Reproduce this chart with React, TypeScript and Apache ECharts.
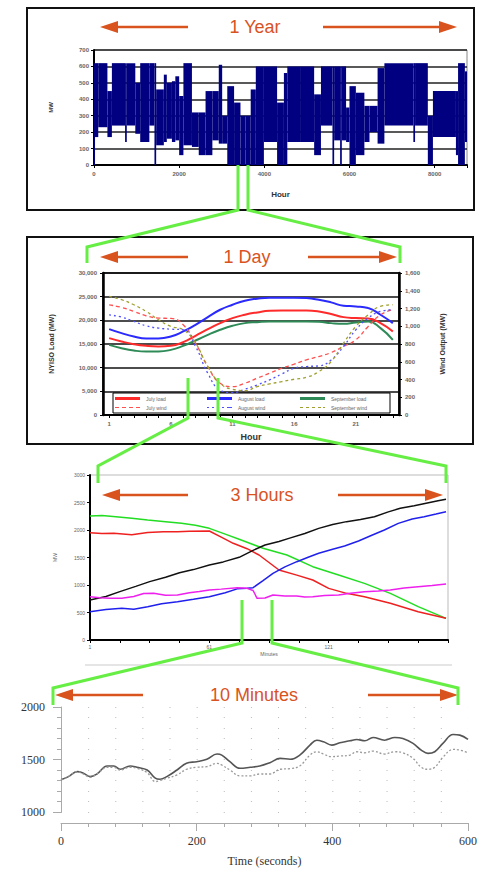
import React, { useEffect, useRef } from 'react';
import * as echarts from 'echarts';

// ---------- Panel 1: one year of hourly wind output (MW), envelope segments [startHour, endHour, low, high]
const yearSegments: [number, number, number, number][] = [
  [0, 24, 0, 620], [24, 100, 170, 620], [100, 315, 230, 620], [315, 420, 170, 450],
  [420, 730, 240, 620], [730, 770, 140, 620], [770, 970, 240, 620], [970, 1085, 190, 500],
  [1085, 1300, 140, 620], [1300, 1420, 240, 620], [1420, 1460, 0, 620], [1460, 1640, 120, 460],
  [1640, 1710, 140, 550], [1710, 1830, 160, 500], [1830, 1910, 140, 510], [1910, 2000, 150, 540],
  [2000, 2100, 60, 420], [2100, 2300, 120, 620], [2300, 2460, 110, 320], [2460, 2620, 60, 320],
  [2620, 2780, 60, 450], [2780, 2930, 150, 450], [2930, 3010, 130, 610], [3010, 3130, 130, 300],
  [3130, 3290, 0, 480], [3290, 3440, 0, 380], [3440, 3560, 0, 300], [3560, 3680, 0, 300],
  [3680, 3800, 0, 460], [3800, 3990, 0, 600], [3990, 4300, 140, 600], [4300, 4460, 0, 380],
  [4460, 4540, 0, 560], [4540, 4860, 140, 600], [4860, 5170, 140, 600], [5170, 5330, 60, 430],
  [5330, 5600, 240, 600], [5600, 5640, 0, 600], [5640, 5780, 150, 600], [5780, 5820, 0, 600],
  [5820, 5920, 150, 600], [5920, 6000, 140, 350], [6000, 6150, 0, 480], [6150, 6350, 60, 440],
  [6350, 6470, 140, 360], [6470, 6660, 200, 360], [6660, 6820, 130, 590], [6820, 7500, 240, 620],
  [7500, 7540, 140, 620], [7540, 7840, 240, 620], [7840, 7960, 0, 300], [7960, 8500, 170, 450],
  [8500, 8550, 60, 450], [8550, 8710, 0, 620], [8710, 8760, 140, 570],
];

// ---------- Panel 2: one day
const dayHours = ['1', '2', '3', '4', '5', '6', '7', '8', '9', '10', '11', '12', '13', '14', '15', '16', '17', '18', '19', '20', '21', '22', '23', '24'];
const julyLoad = [16235, 15530, 14965, 14610, 14470, 14610, 15390, 16730, 18140, 19410, 20470, 21180, 21670, 22020, 22090, 22090, 22090, 21880, 21320, 20680, 20470, 20400, 19410, 17650];
const augustLoad = [18140, 17290, 16590, 16165, 16165, 16590, 17650, 19060, 20680, 22235, 23290, 24140, 24565, 24775, 24775, 24775, 24700, 24350, 23790, 23080, 22940, 22590, 21180, 19410];
const septemberLoad = [14820, 14120, 13620, 13410, 13410, 13760, 14610, 15740, 16940, 18000, 18850, 19410, 19620, 19760, 19760, 19760, 19760, 19690, 19410, 19270, 19550, 19760, 18350, 15880];
const julyWind = [1242, 1212, 1167, 1118, 1092, 1088, 1017, 810, 546, 358, 320, 358, 414, 470, 527, 572, 621, 659, 704, 772, 847, 998, 1129, 1186];
const augustWind = [1129, 1103, 1054, 1005, 979, 967, 960, 772, 470, 282, 252, 290, 339, 395, 463, 527, 546, 553, 621, 772, 960, 1092, 1167, 1186];
const septemberWind = [1336, 1299, 1242, 1167, 1073, 998, 960, 810, 546, 358, 290, 275, 320, 350, 376, 403, 425, 489, 602, 810, 998, 1129, 1224, 1242];

// ---------- Panel 3: three hours (minute offset from start, MW)
const greenMinute: [number, number][] = [[0, 2255], [6, 2262], [13, 2242], [21, 2215], [29, 2182], [38, 2150], [46, 2121], [53, 2085], [60, 2030], [68, 1925], [76, 1818], [87, 1667], [99, 1545], [112, 1333], [125, 1182], [138, 1030], [151, 848], [165, 606], [179, 394]];
const redMinute: [number, number][] = [[0, 1951], [6, 1935], [12, 1939], [21, 1915], [29, 1955], [37, 1970], [44, 1968], [50, 1976], [60, 1982], [66, 1870], [72, 1758], [79, 1660], [85, 1545], [95, 1273], [104, 1180], [112, 1091], [120, 939], [129, 848], [138, 788], [151, 667], [165, 515], [179, 394]];
const blackMinute: [number, number][] = [[0, 727], [8, 790], [15, 879], [23, 975], [30, 1061], [38, 1140], [45, 1224], [52, 1280], [60, 1364], [67, 1420], [75, 1503], [82, 1630], [88, 1727], [95, 1790], [100, 1848], [108, 1935], [115, 2030], [122, 2100], [129, 2152], [136, 2190], [143, 2242], [150, 2330], [156, 2394], [163, 2440], [169, 2485], [175, 2530], [179, 2558]];
const blueMinute: [number, number][] = [[0, 515], [8, 555], [16, 576], [22, 560], [29, 606], [36, 660], [44, 697], [52, 740], [60, 788], [68, 860], [74, 930], [79, 939], [82, 952], [87, 1080], [92, 1212], [98, 1330], [104, 1424], [110, 1510], [115, 1576], [122, 1650], [128, 1709], [135, 1800], [142, 1909], [148, 2000], [155, 2121], [162, 2200], [168, 2242], [174, 2290], [179, 2333]];
const magentaMinute: [number, number][] = [[0, 788], [5, 770], [10, 760], [16, 758], [22, 790], [27, 845], [32, 848], [38, 812], [44, 818], [50, 860], [55, 880], [60, 909], [66, 925], [74, 952], [79, 939], [82, 900], [84, 758], [88, 765], [92, 818], [98, 800], [104, 800], [108, 780], [112, 788], [118, 810], [125, 818], [131, 850], [138, 879], [145, 890], [151, 909], [158, 945], [165, 970], [172, 990], [179, 1018]];

// ---------- Panel 4: ten minutes
const seconds = [0, 11, 24, 33, 43, 53, 68, 78, 87, 102, 112, 127, 139, 146, 156, 171, 185, 200, 215, 230, 237, 249, 264, 279, 293, 308, 323, 338, 352, 367, 377, 387, 399, 411, 426, 436, 448, 460, 477, 492, 504, 519, 531, 541, 551, 563, 578, 588, 600];
const solidSeconds = [1306, 1337, 1385, 1369, 1337, 1362, 1438, 1438, 1407, 1438, 1426, 1400, 1322, 1312, 1337, 1400, 1464, 1479, 1502, 1552, 1542, 1479, 1416, 1426, 1438, 1470, 1511, 1502, 1542, 1637, 1684, 1669, 1637, 1659, 1678, 1691, 1678, 1710, 1684, 1710, 1700, 1653, 1590, 1558, 1574, 1653, 1738, 1732, 1691];
const dottedSeconds = [1306, 1337, 1385, 1362, 1331, 1362, 1426, 1426, 1400, 1426, 1416, 1375, 1290, 1300, 1322, 1353, 1407, 1426, 1432, 1464, 1448, 1400, 1344, 1344, 1362, 1362, 1407, 1413, 1438, 1542, 1574, 1552, 1527, 1533, 1542, 1574, 1564, 1580, 1552, 1574, 1564, 1511, 1426, 1407, 1426, 1521, 1596, 1590, 1564];

const titles = ['1 Year', '1 Day', '3 Hours', '10 Minutes'];
const dayLegend = ['July load', 'August load', 'September load', 'July wind', 'August wind', 'September wind'];

const ORANGE = '#d9531f';
const GREEN = '#66ee44';
const SMALL = '"Liberation Sans", Arial, sans-serif';
const SERIF = '"Liberation Serif", "Times New Roman", serif';

const DASH_ICONS = [
  'path://M0,0h4v1h-4z M7,0h4v1h-4z M14,0h4v1h-4z M21,0h4v1h-4z',
  'path://M0,0h2v1h-2z M5,0h2v1h-2z M10,0h2v1h-2z M15,0h2v1h-2z M20,0h5v1h-5z',
  'path://M0,0h3v1h-3z M6,0h3v1h-3z M12,0h3v1h-3z M18,0h3v1h-3z M23,0h2v1h-2z',
];

function arrowPair(xl: number, xlEnd: number, xrStart: number, xr: number, y: number) {
  const hl = 18, hh = 6;
  return [
    { type: 'line', z: 50, shape: { x1: xl + hl - 2, y1: y, x2: xlEnd, y2: y }, style: { stroke: ORANGE, lineWidth: 2.5 } },
    { type: 'polygon', z: 50, shape: { points: [[xl, y], [xl + hl, y - hh], [xl + hl, y + hh]] }, style: { fill: ORANGE } },
    { type: 'line', z: 50, shape: { x1: xrStart, y1: y, x2: xr - hl + 2, y2: y }, style: { stroke: ORANGE, lineWidth: 2.5 } },
    { type: 'polygon', z: 50, shape: { points: [[xr, y], [xr - hl, y - hh], [xr - hl, y + hh]] }, style: { fill: ORANGE } },
  ];
}

function title(text: string, x: number, y: number) {
  return {
    type: 'text', z: 50, x, y,
    style: { text, fill: ORANGE, font: `18px ${SMALL}`, align: 'center', verticalAlign: 'middle' },
  };
}

function green(points: number[][]) {
  return { type: 'polyline', z: 100, shape: { points }, style: { stroke: GREEN, lineWidth: 3, fill: 'none' } };
}

const smallLabel = { fontSize: 6, color: '#666', fontWeight: 'bold' as const, fontFamily: SMALL };

function buildOption(): any {
  const commas = (v: number) => v.toLocaleString('en-US');
  const legendCols = [115, 207, 300];
  return {
    animation: false,
    backgroundColor: '#fff',
    grid: [
      { left: 94, top: 50, width: 373, height: 115, show: true, borderColor: '#888', borderWidth: 1 },
      { left: 103, top: 273, width: 296, height: 142, show: true, borderColor: '#000', borderWidth: 1.5 },
      { left: 90, top: 475, width: 358, height: 165, show: true, borderColor: '#bbb', borderWidth: 1 },
      { left: 61, top: 707, width: 407, height: 105 },
    ],
    legend: dayLegend.map((name, i) => ({
      data: [{ name, icon: i < 3 ? 'rect' : DASH_ICONS[i - 3] }],
      left: legendCols[i % 3], top: i < 3 ? 396 : 405,
      itemWidth: 25, itemHeight: i < 3 ? 3 : 2, itemGap: 0, padding: 0,
      textStyle: { fontSize: 5, color: '#666', fontFamily: SMALL, padding: [0, 0, 0, 1] },
      selectedMode: false,
      z: 6,
    })),
    xAxis: [
      {
        gridIndex: 0, type: 'value', min: 0, max: 8760, interval: 2000,
        axisLine: { show: true, lineStyle: { color: '#000', width: 2 } },
        axisTick: { show: true, length: 3, lineStyle: { color: '#000' } },
        axisLabel: { ...smallLabel, margin: 6, formatter: (v: number) => (v % 2000 === 0 ? String(v) : '') },
        splitLine: { show: false },
        name: 'Hour', nameLocation: 'middle', nameGap: 25,
        nameTextStyle: { fontSize: 8, fontWeight: 'bold', color: '#333', fontFamily: SMALL },
      },
      {
        gridIndex: 1, type: 'category', data: dayHours, boundaryGap: true,
        axisLine: { show: true, lineStyle: { color: '#000', width: 2 } },
        axisTick: { show: true, alignWithLabel: true, interval: 0, length: 3, lineStyle: { color: '#000' } },
        axisLabel: { ...smallLabel, interval: 4, margin: 6 },
        name: 'Hour', nameLocation: 'middle', nameGap: 17,
        nameTextStyle: { fontSize: 9, fontWeight: 'bold', color: '#333', fontFamily: SMALL },
      },
      {
        gridIndex: 2, type: 'value', min: 0, max: 180, interval: 15,
        axisLine: { show: true, lineStyle: { color: '#000', width: 2 } },
        axisTick: { show: true, length: 3, lineStyle: { color: '#000' } },
        axisLabel: { fontSize: 5, color: '#666', fontFamily: SMALL, margin: 4, formatter: (v: number) => (v % 60 === 0 && v < 180 ? String(v + 1) : '') },
        splitLine: { show: false },
        name: 'Minutes', nameLocation: 'middle', nameGap: 11,
        nameTextStyle: { fontSize: 5, color: '#666', fontFamily: SMALL },
      },
      {
        gridIndex: 3, type: 'value', min: 0, max: 600, interval: 200, offset: 11,
        axisLine: { show: true, lineStyle: { color: '#aaa', width: 1 } },
        axisTick: { show: true, length: 8, lineStyle: { color: '#aaa' } },
        minorTick: { show: true, splitNumber: 5, length: 4, lineStyle: { color: '#aaa' } },
        axisLabel: { fontSize: 12, color: '#333', fontFamily: SERIF, margin: 12 },
        splitLine: { show: false },
        name: 'Time (seconds)', nameLocation: 'middle', nameGap: 32,
        nameTextStyle: { fontSize: 12, color: '#333', fontFamily: SERIF },
      },
    ],
    yAxis: [
      {
        gridIndex: 0, type: 'value', min: 0, max: 700, interval: 100,
        axisLine: { show: true, lineStyle: { color: '#000', width: 2 } },
        axisTick: { show: true, length: 3, lineStyle: { color: '#000' } },
        axisLabel: { ...smallLabel, margin: 5 },
        splitLine: { show: true, lineStyle: { color: '#222', width: 1.5 } },
        name: 'MW', nameLocation: 'middle', nameGap: 40, nameRotate: 90,
        nameTextStyle: { fontSize: 6, fontWeight: 'bold', color: '#333', fontFamily: SMALL },
      },
      {
        gridIndex: 1, type: 'value', position: 'left', min: 0, max: 30000, interval: 5000,
        axisLine: { show: true, lineStyle: { color: '#000', width: 2.5 } },
        axisTick: { show: true, length: 3, lineStyle: { color: '#000' } },
        axisLabel: { ...smallLabel, margin: 6, formatter: commas },
        splitLine: { show: true, lineStyle: { color: '#111', width: 1.5 } },
        name: 'NYISO Load (MW)', nameLocation: 'middle', nameGap: 48, nameRotate: 90,
        nameTextStyle: { fontSize: 7, fontWeight: 'bold', color: '#333', fontFamily: SMALL },
      },
      {
        gridIndex: 1, type: 'value', position: 'right', min: 0, max: 1600, interval: 200,
        axisLine: { show: true, lineStyle: { color: '#000', width: 2.5 } },
        axisTick: { show: true, length: 3, lineStyle: { color: '#000' } },
        axisLabel: { ...smallLabel, margin: 6, formatter: commas },
        splitLine: { show: false },
        name: 'Wind Output (MW)', nameLocation: 'middle', nameGap: 40, nameRotate: 90,
        nameTextStyle: { fontSize: 7, fontWeight: 'bold', color: '#333', fontFamily: SMALL },
      },
      {
        gridIndex: 2, type: 'value', min: 0, max: 3000, interval: 500,
        axisLine: { show: true, lineStyle: { color: '#000', width: 2 } },
        axisTick: { show: true, length: 3, lineStyle: { color: '#000' } },
        axisLabel: { fontSize: 5, color: '#666', fontFamily: SMALL, margin: 5, formatter: (v: number) => String(v) },
        splitLine: { show: false },
        name: 'MW', nameLocation: 'middle', nameGap: 33, nameRotate: 90,
        nameTextStyle: { fontSize: 5, color: '#666', fontFamily: SMALL },
      },
      {
        gridIndex: 3, type: 'value', min: 1000, max: 2000, interval: 500,
        axisLine: { show: true, lineStyle: { color: '#aaa', width: 1 } },
        axisTick: { show: true, length: 8, lineStyle: { color: '#aaa' } },
        minorTick: { show: true, splitNumber: 5, length: 4, lineStyle: { color: '#aaa' } },
        axisLabel: { fontSize: 12, color: '#333', fontFamily: SERIF, margin: 16, formatter: (v: number) => String(v) },
        splitLine: { show: true, lineStyle: { color: '#bbb', width: 1, type: [1, 26.13] } },
        minorSplitLine: { show: true, lineStyle: { color: '#bbb', width: 1, type: [1, 26.13] } },
      },
    ],
    series: [
      {
        type: 'custom', name: 'Wind output', xAxisIndex: 0, yAxisIndex: 0,
        encode: { x: [0, 1], y: [2, 3] },
        data: yearSegments,
        renderItem: (params: any, api: any) => {
          const p1 = api.coord([api.value(0), api.value(3)]);
          const p2 = api.coord([api.value(1), api.value(2)]);
          return {
            type: 'rect',
            shape: { x: p1[0], y: p1[1], width: Math.max(p2[0] - p1[0], 1), height: p2[1] - p1[1] },
            style: { fill: '#000080' },
          };
        },
      },
      { type: 'line', name: 'July load', xAxisIndex: 1, yAxisIndex: 1, data: julyLoad, smooth: true, symbol: 'none', lineStyle: { color: '#ff2a2a', width: 2 }, itemStyle: { color: '#ff2a2a' } },
      { type: 'line', name: 'August load', xAxisIndex: 1, yAxisIndex: 1, data: augustLoad, smooth: true, symbol: 'none', lineStyle: { color: '#2a2aff', width: 2 }, itemStyle: { color: '#2a2aff' } },
      { type: 'line', name: 'September load', xAxisIndex: 1, yAxisIndex: 1, data: septemberLoad, smooth: true, symbol: 'none', lineStyle: { color: '#2e8b57', width: 2 }, itemStyle: { color: '#2e8b57' } },
      { type: 'line', name: 'July wind', xAxisIndex: 1, yAxisIndex: 2, data: julyWind, smooth: true, symbol: 'none', lineStyle: { color: '#ff5050', width: 1.3, type: [4, 3] }, itemStyle: { color: '#ff5050' } },
      { type: 'line', name: 'August wind', xAxisIndex: 1, yAxisIndex: 2, data: augustWind, smooth: true, symbol: 'none', lineStyle: { color: '#5050ff', width: 1.3, type: [2, 3] }, itemStyle: { color: '#5050ff' } },
      { type: 'line', name: 'September wind', xAxisIndex: 1, yAxisIndex: 2, data: septemberWind, smooth: true, symbol: 'none', lineStyle: { color: '#a0a030', width: 1.3, type: [3, 3] }, itemStyle: { color: '#a0a030' } },
      { type: 'line', name: 'Green', xAxisIndex: 2, yAxisIndex: 3, data: greenMinute, symbol: 'none', lineStyle: { color: '#22dd22', width: 1.5 } },
      { type: 'line', name: 'Red', xAxisIndex: 2, yAxisIndex: 3, data: redMinute, symbol: 'none', lineStyle: { color: '#ee2020', width: 1.5 } },
      { type: 'line', name: 'Black', xAxisIndex: 2, yAxisIndex: 3, data: blackMinute, symbol: 'none', lineStyle: { color: '#111', width: 1.5 } },
      { type: 'line', name: 'Blue', xAxisIndex: 2, yAxisIndex: 3, data: blueMinute, symbol: 'none', lineStyle: { color: '#2020ee', width: 1.5 } },
      { type: 'line', name: 'Magenta', xAxisIndex: 2, yAxisIndex: 3, data: magentaMinute, symbol: 'none', lineStyle: { color: '#ee20ee', width: 1.5 } },
      { type: 'line', name: 'Measured', xAxisIndex: 3, yAxisIndex: 4, data: seconds.map((s, i) => [s, solidSeconds[i]]), smooth: 0.4, symbol: 'none', lineStyle: { color: '#555', width: 1.6 } },
      { type: 'line', name: 'Estimated', xAxisIndex: 3, yAxisIndex: 4, data: seconds.map((s, i) => [s, dottedSeconds[i]]), smooth: 0.4, symbol: 'none', lineStyle: { color: '#999', width: 1.3, type: [2, 2] } },
    ],
    graphic: [
      // panel boxes
      { type: 'rect', z: 10, shape: { x: 27, y: 8, width: 447, height: 202 }, style: { fill: 'none', stroke: '#111', lineWidth: 2 } },
      { type: 'rect', z: 10, shape: { x: 27, y: 237, width: 446, height: 207 }, style: { fill: 'none', stroke: '#111', lineWidth: 2 } },
      { type: 'line', z: 10, shape: { x1: 85, y1: 665, x2: 452, y2: 665 }, style: { stroke: '#ddd', lineWidth: 1.5 } },
      // legend box of the day panel
      { type: 'rect', z: 3, shape: { x: 113, y: 393, width: 277, height: 20 }, style: { fill: '#fff', stroke: '#000', lineWidth: 1 } },
      // titles and arrows
      title(titles[0], 255, 27), ...arrowPair(100, 188, 323, 457, 27),
      title(titles[1], 247, 257), ...arrowPair(100, 188, 308, 397, 257),
      title(titles[2], 262, 495), ...arrowPair(102, 188, 338, 443, 495),
      title(titles[3], 254, 695), ...arrowPair(55, 143, 368, 458, 695),
      // green zoom connectors
      green([[238, 165], [238, 210], [87, 247], [87, 263]]),
      green([[248, 165], [248, 210], [400, 247], [400, 263]]),
      green([[188, 378], [188, 418], [98, 466], [98, 483]]),
      green([[218, 378], [218, 418], [446, 466], [446, 483]]),
      green([[242, 600], [242, 643], [53, 688], [53, 705]]),
      green([[272, 600], [272, 643], [458, 688], [458, 705]]),
    ],
  };
}

export default function App() {
  const ref = useRef<HTMLDivElement>(null);
  useEffect(() => {
    document.body.style.margin = '0';
    const chart = echarts.init(ref.current as HTMLDivElement, null, { renderer: 'svg' });
    chart.setOption(buildOption());
    return () => chart.dispose();
  }, []);
  return <div ref={ref} style={{ position: 'absolute', left: 0, top: 0, width: 485, height: 869, background: '#fff' }} />;
}
